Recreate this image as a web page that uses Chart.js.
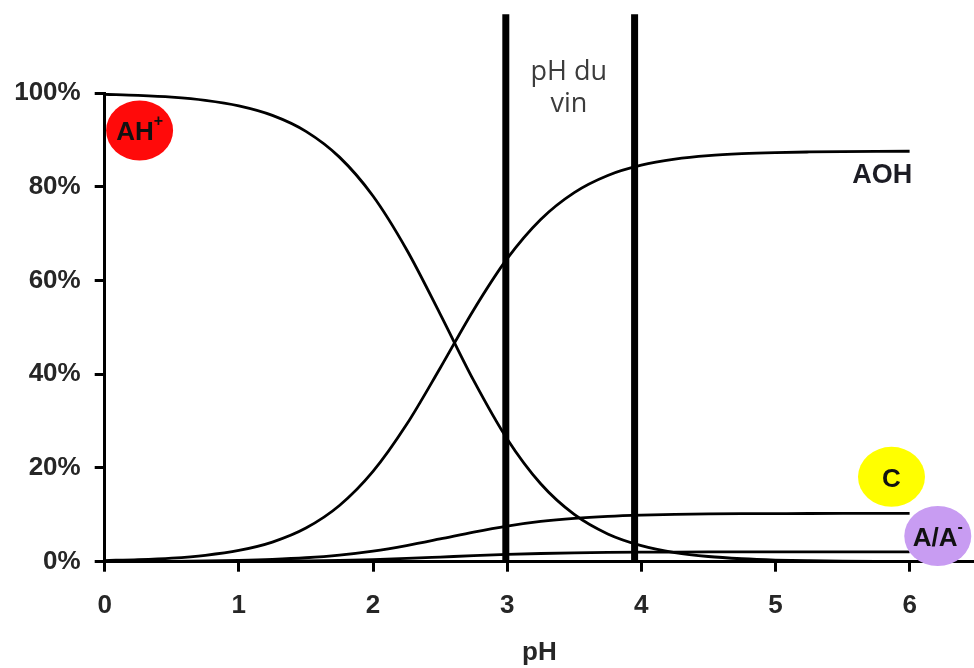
<!DOCTYPE html>
<html>
<head>
<meta charset="utf-8">
<script src="https://cdn.jsdelivr.net/npm/chart.js@4"></script>
<style>
  html,body{margin:0;padding:0;background:#fff;}
  #wrap{width:974px;height:668px;position:relative;}
</style>
</head>
<body>
<div id="wrap"><canvas id="c" width="974" height="668"></canvas></div>
<script>
// ---- data ----
const phValues = [0,0.25,0.5,0.75,1,1.25,1.5,1.75,2,2.25,2.5,2.75,3,3.25,3.5,3.75,4,4.25,4.5,4.75,5,5.25,5.5,5.75,6];
const ahPlus   = [99.72,99.50,99.12,98.44,97.26,95.23,91.82,86.32,78.02,66.61,52.88,38.68,26.19,16.63,10.09,5.93,3.43,1.96,1.11,0.63,0.35,0.20,0.11,0.06,0.04];
const aoh      = [0.25,0.44,0.77,1.37,2.40,4.18,7.17,11.98,19.25,29.25,41.28,53.72,64.66,73.03,78.76,82.41,84.60,85.88,86.63,87.05,87.29,87.42,87.50,87.55,87.57];
const cForm    = [0.03,0.05,0.09,0.16,0.28,0.49,0.84,1.41,2.26,3.44,4.85,6.32,7.60,8.59,9.26,9.69,9.95,10.10,10.19,10.24,10.26,10.28,10.29,10.29,10.30];
const aForm    = [0.01,0.01,0.02,0.03,0.06,0.10,0.17,0.29,0.46,0.70,0.99,1.29,1.55,1.75,1.89,1.98,2.03,2.06,2.08,2.09,2.09,2.10,2.10,2.10,2.10];
const winePH   = [2.99, 3.95];          // pH range of wine (vertical bars)
const barTop   = 116.8;                 // bars extend above 100 %
const xTicks   = [0,1,2,3,4,5,6];
const yTicks   = [0,20,40,60,80,100];

const pts = arr => phValues.map((x,i)=>({x:x, y:arr[i]}));
const vline = v => [{x:v,y:0},{x:v,y:barTop}];

const curveStyle = {borderColor:'#000', borderWidth:2.8, pointRadius:0, fill:false, cubicInterpolationMode:'monotone'};
const barStyle = {borderColor:'#000', borderWidth:7, pointRadius:0, fill:false, clip:false, tension:0};

const tickFont = {family:'"Liberation Sans", Arial, sans-serif', size:26, weight:'bold'};

const annot = {
  id:'annot',
  afterDatasetsDraw(chart){
    const {ctx, scales:{x,y}} = chart;
    ctx.save();
    // "pH du vin"
    ctx.fillStyle = '#3c3c3c';
    ctx.font = '27px "Open Sans", sans-serif';
    ctx.textAlign = 'center';
    ctx.textBaseline = 'alphabetic';
    const cx = x.getPixelForValue(3.46);
    ctx.fillText('pH du', cx, y.getPixelForValue(102.8));
    ctx.fillText('vin', cx, y.getPixelForValue(96.0));
    // AOH label
    ctx.fillStyle = '#1c1c24';
    ctx.font = 'bold 27px "Liberation Sans", Arial, sans-serif';
    ctx.textAlign = 'right';
    ctx.fillText('AOH', x.getPixelForValue(6.02), y.getPixelForValue(80.8));

    function bubble(px, py, color, main, sup){
      ctx.beginPath();
      ctx.ellipse(px, py, 33.5, 30, 0, 0, Math.PI*2);
      ctx.fillStyle = color;
      ctx.fill();
      ctx.fillStyle = '#111';
      ctx.font = 'bold 26px "Liberation Sans", Arial, sans-serif';
      const w1 = ctx.measureText(main).width;
      ctx.font = 'bold 16px "Liberation Sans", Arial, sans-serif';
      const w2 = sup ? ctx.measureText(sup).width : 0;
      const start = px - (w1 + w2)/2;
      ctx.textAlign = 'left';
      ctx.textBaseline = 'alphabetic';
      ctx.font = 'bold 26px "Liberation Sans", Arial, sans-serif';
      ctx.fillText(main, start, py + 10);
      if (sup){
        ctx.font = 'bold 16px "Liberation Sans", Arial, sans-serif';
        ctx.fillText(sup, start + w1, py - 4);
      }
    }
    bubble(x.getPixelForValue(0.26), y.getPixelForValue(92.0), '#ff0a0a', 'AH', '+');
    bubble(x.getPixelForValue(5.865), y.getPixelForValue(18.1), '#ffff00', 'C', '');
    bubble(x.getPixelForValue(6.21), y.getPixelForValue(5.5), '#c89cf2', 'A/A', '-');
    ctx.restore();
  }
};

new Chart(document.getElementById('c'), {
  type:'line',
  data:{
    datasets:[
      Object.assign({data:vline(winePH[0])}, barStyle),
      Object.assign({data:vline(winePH[1])}, barStyle),
      Object.assign({label:'AH+', data:pts(ahPlus)}, curveStyle),
      Object.assign({label:'AOH', data:pts(aoh)}, curveStyle),
      Object.assign({label:'C', data:pts(cForm)}, curveStyle),
      Object.assign({label:'A/A-', data:pts(aForm)}, curveStyle)
    ]
  },
  options:{
    responsive:false,
    animation:false,
    layout:{padding:{top:93, right:0, left:0, bottom:0}},
    plugins:{legend:{display:false}, tooltip:{enabled:false}},
    scales:{
      x:{
        type:'linear', min:0, max:6.48,
        afterBuildTicks: s => { s.ticks = xTicks.map(v=>({value:v})); },
        afterFit: s => { s.height = 106.3; },
        ticks:{font:tickFont, color:'#262626', padding:19, maxRotation:0, callback:v=>String(v)},
        grid:{drawOnChartArea:false, drawTicks:true, tickLength:10, color:'#000', lineWidth:3},
        border:{color:'#000', width:3},
        title:{display:true, text:'pH', font:tickFont, color:'#262626', padding:{top:0,bottom:0}}
      },
      y:{
        type:'linear', min:0, max:100,
        afterBuildTicks: s => { s.ticks = yTicks.map(v=>({value:v})); },
        afterFit: s => { s.width = 104.7; },
        ticks:{font:tickFont, color:'#262626', padding:14, callback:v=>v+'%'},
        grid:{drawOnChartArea:false, drawTicks:true, tickLength:10, color:'#000', lineWidth:3},
        border:{color:'#000', width:3}
      }
    }
  },
  plugins:[annot]
});
</script>
</body>
</html>
